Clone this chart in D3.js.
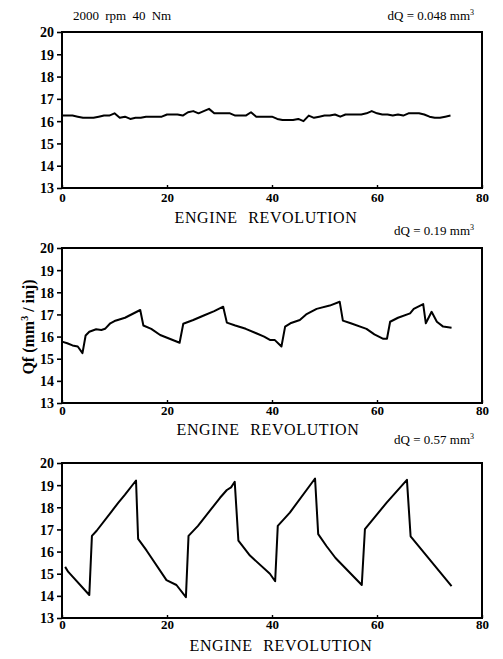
<!DOCTYPE html>
<html>
<head>
<meta charset="utf-8">
<script src="https://cdn.jsdelivr.net/npm/d3@7"></script>
<style>
  html, body { margin: 0; padding: 0; background: #fff; }
  svg { display: block; }
  text { font-family: "Liberation Serif", "DejaVu Serif", serif; fill: #000; }
</style>
</head>
<body>
<svg id="chart" width="503" height="659"></svg>
<script>
// Engine revolution axis and Qf axis ticks
const xTicks = [0, 20, 40, 60, 80];
const yTicks = [13, 14, 15, 16, 17, 18, 19, 20];

// Panel 1: dQ = 0.048 mm3
const rev1 = d3.range(0, 75);
const qf1 = [16.25, 16.25, 16.25, 16.2, 16.15, 16.15, 16.15, 16.2, 16.25, 16.25,
  16.35, 16.15, 16.2, 16.1, 16.15, 16.15, 16.2, 16.2, 16.2, 16.2,
  16.3, 16.3, 16.3, 16.25, 16.4, 16.45, 16.35, 16.45, 16.55, 16.35,
  16.35, 16.35, 16.35, 16.25, 16.25, 16.25, 16.4, 16.2, 16.2, 16.2,
  16.2, 16.1, 16.05, 16.05, 16.05, 16.1, 16.0, 16.25, 16.15, 16.2,
  16.25, 16.25, 16.3, 16.2, 16.3, 16.3, 16.3, 16.3, 16.35, 16.45,
  16.35, 16.3, 16.3, 16.25, 16.3, 16.25, 16.35, 16.35, 16.35, 16.3,
  16.2, 16.15, 16.15, 16.2, 16.25];

// Panel 2: dQ = 0.19 mm3
const rev2 = [0, 1, 2, 3, 3.9, 4.5, 5.2, 6.5, 7.5, 8.2, 9.2, 10, 12, 14.9, 15.5, 17, 18.7, 20.5, 22.4, 23.1,
  25, 27, 29, 30.7, 31.4, 33, 35, 37, 38.5, 39.6, 40.5, 41.8, 42.5, 43.5, 45.3, 46.5, 48.5, 51, 52.9, 53.5,
  55, 58, 59.5, 61.2, 61.9, 62.5, 64, 66.3, 67, 68.8, 69.3, 70.4, 71.4, 72.6, 74.2];
const qf2 = [15.77, 15.7, 15.6, 15.55, 15.25, 16.05, 16.22, 16.33, 16.3, 16.35, 16.6, 16.7, 16.85, 17.2, 16.5, 16.35, 16.07, 15.9, 15.72, 16.58,
  16.75, 16.95, 17.15, 17.35, 16.63, 16.5, 16.35, 16.15, 16.0, 15.85, 15.85, 15.55, 16.45, 16.6, 16.75, 17.0, 17.25, 17.4, 17.57, 16.72,
  16.6, 16.35, 16.1, 15.9, 15.9, 16.67, 16.85, 17.05, 17.25, 17.47, 16.6, 17.12, 16.67, 16.45, 16.4];

// Panel 3: dQ = 0.57 mm3
const rev3 = [0.6, 1.2, 5.2, 5.7, 6.6, 9.5, 10.7, 12, 14.1, 14.5, 16.1, 19.9, 21.8, 23.6, 24.1, 25.9, 30.1, 31.4, 32.2, 32.9,
  33.6, 35.8, 39.6, 40.6, 41.1, 43.4, 48.2, 48.8, 50.4, 52.1, 57.1, 57.7, 61.8, 65.7, 66.4, 74.2];
const qf3 = [15.31, 15.08, 14.04, 16.71, 16.94, 17.83, 18.2, 18.57, 19.21, 16.57, 16.05, 14.71, 14.49, 13.94, 16.71, 17.16, 18.43, 18.78, 18.9, 19.15,
  16.49, 15.82, 15.0, 14.66, 17.16, 17.76, 19.3, 16.79, 16.24, 15.71, 14.49, 17.01, 18.2, 19.24, 16.69, 14.44];

const svg = d3.select("#chart");

const panels = [
  { rev: rev1, qf: qf1, top: 32, bottom: 188, pad: 5, dq: "0.048", dqY: 20, titleY: 223, titleX: 266 },
  { rev: rev2, qf: qf2, top: 248, bottom: 403, pad: 3, dq: "0.19", dqY: 235, titleY: 435, titleX: 268 },
  { rev: rev3, qf: qf3, top: 463, bottom: 618, pad: 2, dq: "0.57", dqY: 444, titleY: 651, titleX: 281 }
];

const left = 62, right = 482;
const x = d3.scaleLinear().domain([0, 80]).range([left, right]);

panels.forEach(p => {
  const y = d3.scaleLinear().domain([13, 20]).range([p.bottom, p.top]);
  const g = svg.append("g");

  // frame
  g.append("rect")
    .attr("x", left).attr("y", p.top)
    .attr("width", right - left).attr("height", p.bottom - p.top)
    .attr("fill", "none").attr("stroke", "#000").attr("stroke-width", 2);

  // left axis
  const ya = g.append("g").attr("transform", `translate(${left},0)`)
    .call(d3.axisLeft(y).tickValues(yTicks).tickSize(5).tickPadding(3).tickFormat(d3.format("d")));
  ya.select(".domain").remove();
  ya.selectAll("line").attr("stroke", "#000").attr("stroke-width", 1.6);
  ya.selectAll("text").style("font-size", "14px").style("font-weight", "bold")
    .attr("dy", "0.35em");

  // bottom axis
  const xa = g.append("g").attr("transform", `translate(0,${p.bottom})`)
    .call(d3.axisBottom(x).tickValues(xTicks).tickSize(-3).tickPadding(p.pad).tickFormat(d3.format("d")));
  xa.select(".domain").remove();
  xa.selectAll("line").attr("stroke", "#000").attr("stroke-width", 1.4);
  xa.selectAll("text").style("font-size", "13px").style("font-weight", "bold");

  // axis title
  g.append("text")
    .attr("x", p.titleX).attr("y", p.titleY)
    .attr("text-anchor", "middle")
    .style("font-size", "16px")
    .style("letter-spacing", "0.6px")
    .style("word-spacing", "6px")
    .text("ENGINE REVOLUTION");

  // dQ annotation
  const t = g.append("text")
    .attr("x", 474).attr("y", p.dqY)
    .attr("text-anchor", "end")
    .style("font-size", "13px");
  t.append("tspan").text(`dQ = ${p.dq} mm`);
  t.append("tspan").attr("dy", "-5").style("font-size", "8px").text("3");

  // Qf trace
  const line = d3.line().x((d, i) => x(p.rev[i])).y(d => y(d));
  g.append("path")
    .datum(p.qf)
    .attr("d", line)
    .attr("fill", "none")
    .attr("stroke", "#000")
    .attr("stroke-width", 2)
    .attr("stroke-linejoin", "round");
});

// operating point
svg.append("text")
  .attr("x", 73).attr("y", 20)
  .style("font-size", "13px")
  .style("word-spacing", "3px")
  .text("2000 rpm 40 Nm");

// y-axis label on the middle panel
const yl = svg.append("text")
  .attr("transform", "translate(34,327) rotate(-90)")
  .attr("text-anchor", "middle")
  .style("font-size", "16px")
  .style("font-weight", "bold");
yl.append("tspan").text("Qf (mm");
yl.append("tspan").attr("dy", "-6").style("font-size", "10px").text("3");
yl.append("tspan").attr("dy", "6").text(" / inj)");
</script>
</body>
</html>
